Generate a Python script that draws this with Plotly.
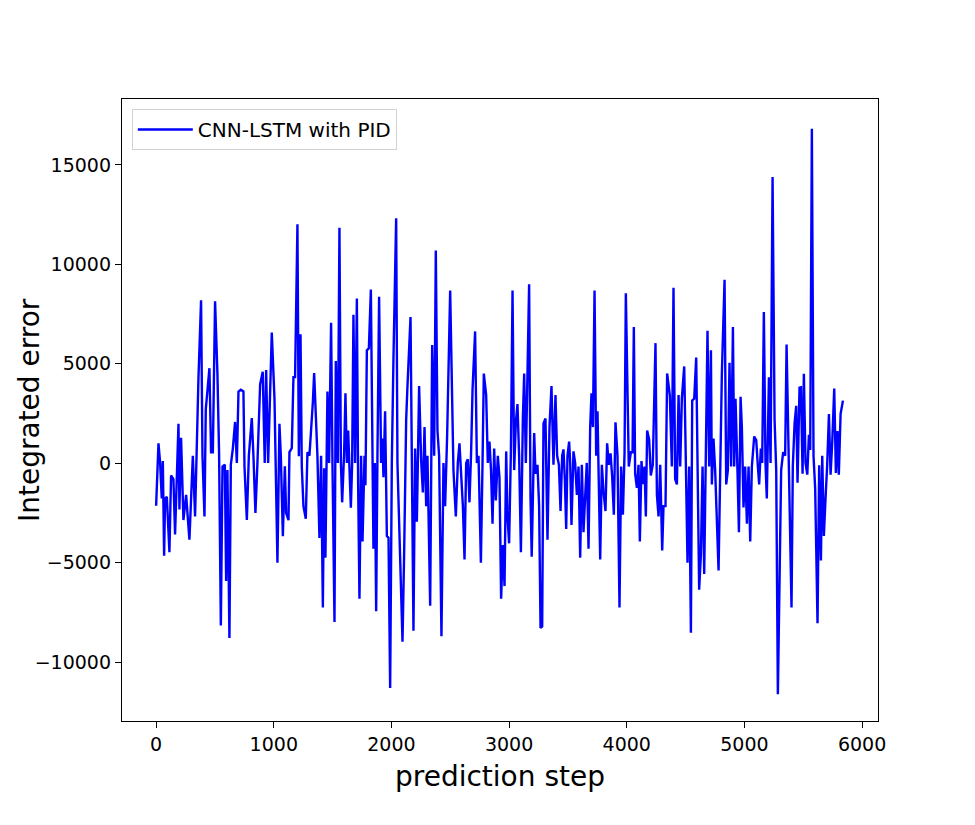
import plotly.graph_objects as go

series_name = "CNN-LSTM with PID"
x_title = "prediction step"
y_title = "Integrated error"
x_ticks = [0, 1000, 2000, 3000, 4000, 5000, 6000]
y_ticks = [-10000, -5000, 0, 5000, 10000, 15000]

steps = [
    0, 5, 20, 34, 48, 57, 68, 76, 91, 113, 127, 147, 161, 190, 198, 212, 232, 255, 283, 312,
    331, 360, 382, 394, 411, 422, 453, 467, 482, 501, 521, 535, 550, 564, 584, 595, 606, 623, 635, 652,
    671, 686, 700, 720, 742, 751, 771, 788, 813, 827, 844, 861, 884, 906, 923, 935, 952, 983, 1006, 1031,
    1048, 1060, 1077, 1094, 1105, 1125, 1133, 1153, 1167, 1181, 1201, 1213, 1227, 1238, 1252, 1272, 1286, 1303, 1317, 1332,
    1343, 1357, 1371, 1388, 1402, 1417, 1428, 1439, 1456, 1470, 1487, 1499, 1516, 1527, 1544, 1558, 1570, 1581, 1598, 1609,
    1621, 1632, 1643, 1655, 1666, 1677, 1691, 1706, 1717, 1728, 1742, 1754, 1771, 1779, 1791, 1808, 1825, 1836, 1847, 1859,
    1870, 1881, 1895, 1912, 1924, 1932, 1946, 1961, 1975, 1989, 2003, 2017, 2040, 2051, 2063, 2080, 2094, 2108, 2125, 2136,
    2162, 2173, 2187, 2201, 2216, 2235, 2252, 2267, 2281, 2295, 2306, 2329, 2346, 2363, 2377, 2391, 2405, 2425, 2442, 2456,
    2473, 2499, 2516, 2527, 2547, 2564, 2578, 2590, 2607, 2621, 2635, 2649, 2663, 2677, 2689, 2711, 2726, 2740, 2760, 2774,
    2785, 2805, 2819, 2833, 2846, 2859, 2873, 2887, 2904, 2918, 2932, 2947, 2961, 2975, 2986, 3000, 3015, 3029, 3043, 3057,
    3071, 3085, 3100, 3117, 3128, 3142, 3156, 3170, 3182, 3192, 3213, 3224, 3241, 3255, 3267, 3281, 3292, 3309, 3326, 3343,
    3360, 3377, 3394, 3408, 3423, 3437, 3451, 3462, 3474, 3485, 3496, 3510, 3519, 3530, 3547, 3561, 3576, 3590, 3604, 3618,
    3632, 3649, 3660, 3675, 3689, 3700, 3712, 3726, 3740, 3751, 3763, 3774, 3788, 3802, 3819, 3833, 3847, 3862, 3876, 3890,
    3904, 3921, 3938, 3952, 3967, 3981, 3992, 4006, 4017, 4035, 4049, 4060, 4071, 4086, 4100, 4111, 4125, 4137, 4151, 4162,
    4173, 4190, 4204, 4221, 4244, 4256, 4270, 4284, 4301, 4312, 4329, 4343, 4366, 4383, 4397, 4411, 4426, 4440, 4454, 4468,
    4488, 4502, 4516, 4530, 4545, 4556, 4573, 4590, 4601, 4615, 4630, 4644, 4658, 4672, 4686, 4700, 4715, 4723, 4737, 4751,
    4766, 4780, 4794, 4808, 4831, 4845, 4859, 4873, 4887, 4902, 4913, 4924, 4941, 4953, 4967, 4978, 4992, 5006, 5021, 5035,
    5049, 5063, 5083, 5100, 5114, 5125, 5139, 5151, 5165, 5179, 5190, 5208, 5222, 5239, 5256, 5270, 5284, 5298, 5312, 5329,
    5346, 5358, 5372, 5383, 5400, 5411, 5426, 5440, 5451, 5468, 5480, 5494, 5505, 5519, 5534, 5548, 5559, 5573, 5587, 5601,
    5621, 5635, 5650, 5661, 5675, 5689, 5703, 5718, 5732, 5746, 5763, 5777, 5791, 5802, 5817, 5837,
]

values = [
    -2130, -1240, 1010, 20, -1770, 110, -4650, -1770, -1680, -4470, -610, -790, -3570, 1990, -2320, 1280, -2850, -1590, -3840, 380,
    -2670, 4330, 8190, 380, -2670, 2720, 4780, 560, 560, 8140, 4510, 560, -8150, -160, -70, -5910, -340, -8780, -70, 740,
    2080, 20, 3610, 3700, 3610, -160, -2850, 380, 2270, 380, -2500, 20, 3970, 4600, 20, 4690, 20, 6570, 3250, -5000,
    1990, 350, -3660, -150, -2500, -2860, 560, 760, 4330, 4330, 12010, 360, 6490, -150, -2150, -2790, 560, 380, 1450, 3070,
    4540, 2410, 360, -3750, 380, -7250, -250, -4740, 3610, 20, 7060, -160, -7970, 5140, 20, 11840, 110, -1960, 560, 3520,
    20, 1650, -340, -2230, 20, 7470, 20, 8280, -1100, -6800, 380, -3930, 380, -1100, 5680, 5780, 8730, 380, -4290, 20,
    -7430, 380, 8370, 20, 1250, -700, 2620, -3650, -3740, -11290, 20, 5230, 12320, 20, -2500, -4830, -8960, -4470, 2170, 3880,
    7350, 380, -8420, 740, -2940, 3880, 200, -1460, 1820, -2150, 380, -7160, 5950, 380, 10700, 1650, 380, -8690, 20, -2150,
    1350, 8680, 2170, -340, -2670, 20, 1010, -520, -2150, -4830, 20, 200, -1960, 560, 3700, 6630, 20, 380, -5000, 20,
    4510, 3430, 20, 1090, -340, -3030, 740, -1870, 380, -700, -6800, -4110, -6170, 600, -2670, -4020, 560, 8680, -340, 2060,
    2980, 380, -4470, 2330, 4510, 20, 4510, 9000, -1770, -4700, 1520, -520, -70, -2150, -8270, -8200, 2000, 2250, -3840, 1820,
    3880, -70, 3430, 380, -70, -2400, 380, 700, -880, -3300, 380, 1090, 20, -3100, 600, 20, -1590, -160, -4740, -70,
    -3460, -1590, 20, -4290, 1820, 3520, 1820, 8680, 380, 2620, -1960, -4830, -70, -1410, -2400, 1010, -70, 500, -700, -2580,
    2060, 380, -7250, -160, -2580, 560, 8550, 4060, -160, 560, 560, 6850, -520, -1230, -70, -3930, 110, -1050, -160, -2670,
    1650, 1200, -610, -70, 6040, -1590, -2670, -70, -4380, -2150, -2150, 4520, 3400, -160, 8820, -790, -1060, 3430, -160, 3250,
    4870, 20, -5000, -160, -8510, 3160, 3250, 5320, -160, -6350, -4560, -160, -5560, 1250, 6660, -160, 5680, -1060, 1250, -340,
    -2670, -5380, -430, 4510, 9220, -1060, -340, 5050, -160, 6850, -160, 3250, -430, -3460, 3340, 1820, -2220, -160, -3030, -160,
    -3930, -160, 1350, 1170, -160, -1060, 740, 20, 7600, 20, -1770, 4330, 20, 14390, 2200, -340, -11600, -6100, -340, 560,
    380, 5970, 1250, -1960, -7250, -160, 2000, 2890, -970, 3800, 3820, -520, 4500, 20, -570, 1430, 670, 16820, 380, -1250,
    -8040, -100, -4880, 380, -3650, -1780, -100, 2480, -570, 1050, 3760, -480, 1620, -570, 2480, 3150,
]

fig = go.Figure(
    go.Scatter(
        x=steps,
        y=values,
        mode="lines",
        name=series_name,
        line=dict(color="#0000ff", width=2.4),
    )
)

fig.update_layout(
    width=975,
    height=825,
    margin=dict(l=114, r=105, t=91, b=112),
    paper_bgcolor="white",
    plot_bgcolor="white",
    font=dict(family="DejaVu Sans", color="black", size=19),
    showlegend=True,
    legend=dict(
        x=0.013, y=0.984, xanchor="left", yanchor="top",
        bordercolor="#d3d3d3", borderwidth=1,
        bgcolor="rgba(255,255,255,0.85)",
        itemwidth=55,
        font=dict(size=20, family="DejaVu Sans", color="black"),
    ),
    annotations=[
        dict(text=x_title, xref="paper", yref="paper", x=0.5, y=-0.09,
             xanchor="center", yanchor="middle", showarrow=False,
             font=dict(size=28, family="DejaVu Sans", color="black")),
        dict(text=y_title, xref="paper", yref="paper", x=-0.123, y=0.5,
             xanchor="center", yanchor="middle", showarrow=False, textangle=-90,
             font=dict(size=28, family="DejaVu Sans", color="black")),
    ],
)

fig.update_xaxes(
    range=[-290, 6135], tickvals=x_ticks, tickformat="d",
    showline=True, linecolor="black", linewidth=1.3, mirror=True,
    ticks="outside", ticklen=6, tickwidth=1.3, tickcolor="black",
    showgrid=False, zeroline=False,
)
fig.update_yaxes(
    range=[-12950, 18310], tickvals=y_ticks, tickformat="d",
    showline=True, linecolor="black", linewidth=1.3, mirror=True,
    ticks="outside", ticklen=6, tickwidth=1.3, tickcolor="black",
    showgrid=False, zeroline=False,
)

fig.write_html("out.html")
